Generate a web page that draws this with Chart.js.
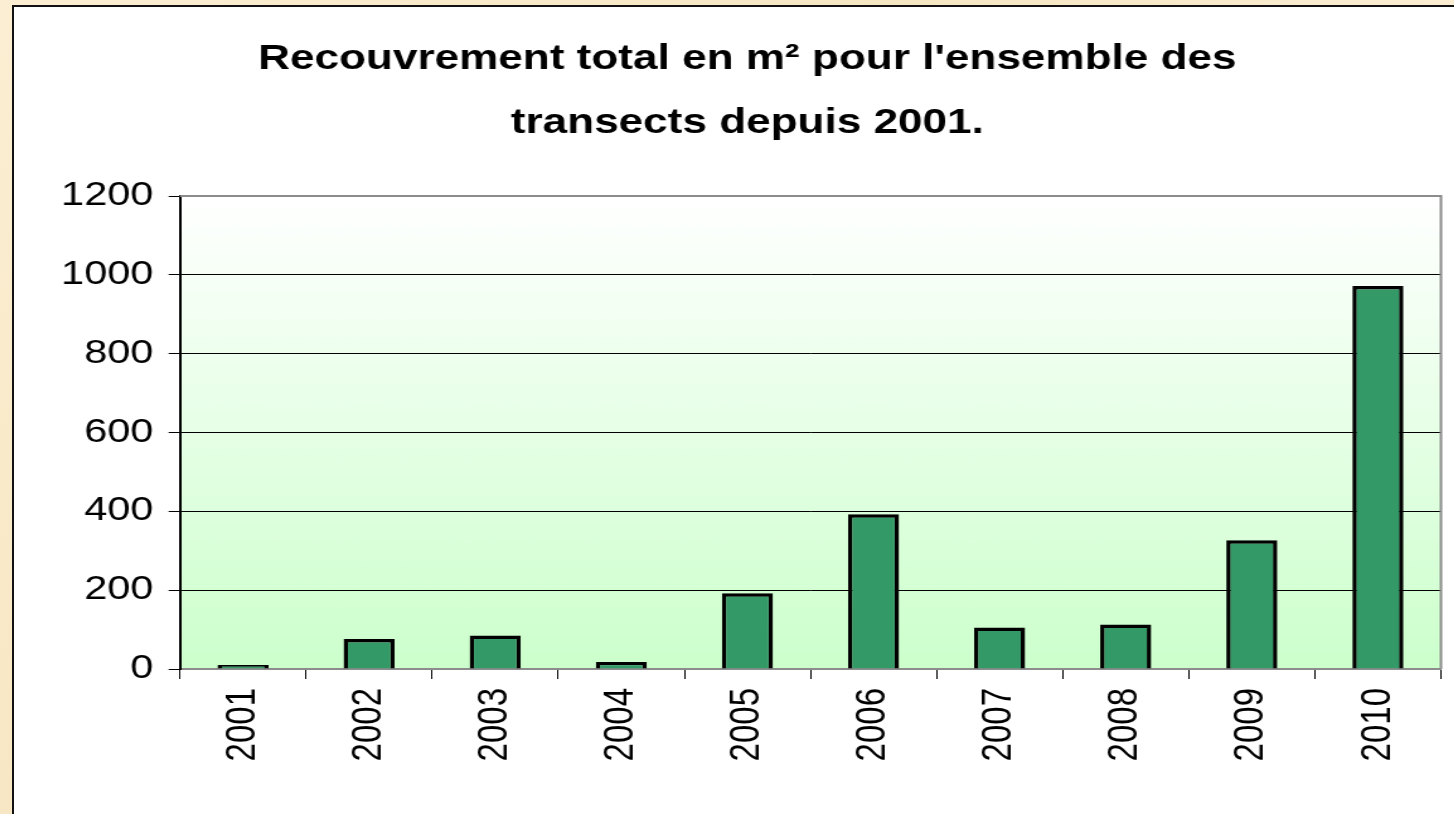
<!DOCTYPE html>
<html>
<head>
<meta charset="utf-8">
<script src="https://cdn.jsdelivr.net/npm/chart.js@4"></script>
<style>
    html, body { margin: 0; padding: 0; overflow: hidden; }
    body {
        width: 1454px;
        height: 814px;
        background: linear-gradient(135deg, #fbeed2 0%, #f7e6c2 40%, #fbefd6 70%, #f6e4bf 100%);
        position: relative;
    }
    #box {
        position: absolute;
        left: 12px;
        top: 5px;
        width: 1460px;
        height: 830px;
        background: #fff;
        border-left: 2px solid #111;
        border-top: 2px solid #111;
    }
    /* the reference picture is stretched sideways, so the chart is too */
    #stretch {
        position: absolute;
        left: 0;
        top: 0;
        transform: scaleX(1.26);
        transform-origin: 0 0;
    }
</style>
</head>
<body>
<div id="box">
    <div id="stretch">
        <canvas id="chart" width="1143" height="807"></canvas>
    </div>
</div>
<script>
// data
const years = ["2001", "2002", "2003", "2004", "2005", "2006", "2007", "2008", "2009", "2010"];
const coverArea = [10, 76, 85, 18, 192, 393, 105, 113, 327, 972];
const titleLines = ["Recouvrement total en m\u00b2 pour l'ensemble des", "transects depuis 2001."];
const yMin = 0;
const yMax = 1200;
const yStep = 200;

const fontFamily = "'Liberation Sans', Arial, sans-serif";

// plot area: white at the top fading to light green at the bottom
const plotBackground = {
    id: "plotBackground",
    beforeDraw(chart) {
        const { ctx, chartArea: a } = chart;
        const grad = ctx.createLinearGradient(0, a.top, 0, a.bottom);
        grad.addColorStop(0, "#ffffff");
        grad.addColorStop(1, "#ccffcc");
        ctx.save();
        ctx.fillStyle = grad;
        ctx.fillRect(a.left, a.top, a.right - a.left, a.bottom - a.top);
        ctx.restore();
    },
    afterDraw(chart) {
        // gray frame on top and right side of the plot area
        const { ctx, chartArea: a } = chart;
        ctx.save();
        ctx.strokeStyle = "#8c8c8c";
        ctx.lineWidth = 2;
        ctx.beginPath();
        ctx.moveTo(a.left, a.top);
        ctx.lineTo(a.right, a.top);
        ctx.lineTo(a.right, a.bottom);
        ctx.stroke();
        ctx.restore();
    }
};

new Chart(document.getElementById("chart"), {
    type: "bar",
    data: {
        labels: years,
        datasets: [{
            data: coverArea,
            backgroundColor: "#339966",
            borderColor: "#000000",
            borderWidth: 3.5,
            barPercentage: 0.405,
            categoryPercentage: 1
        }]
    },
    options: {
        responsive: false,
        animation: false,
        layout: { padding: { left: 31.5, right: 10.5, top: 0, bottom: 0 } },
        plugins: {
            legend: { display: false },
            tooltip: { enabled: false },
            title: {
                display: true,
                text: titleLines,
                color: "#000",
                font: { family: fontFamily, size: 35, weight: "bold", lineHeight: 1.83 },
                padding: { top: 20, bottom: 41 }
            }
        },
        scales: {
            x: {
                grid: {
                    offset: true,
                    drawOnChartArea: false,
                    color: "#000",
                    tickLength: 10
                },
                border: { color: "#8c8c8c", width: 2 },
                ticks: {
                    color: "#000",
                    minRotation: 90,
                    maxRotation: 90,
                    padding: 9,
                    font: { family: fontFamily, size: 33 }
                },
                afterFit: (scale) => { scale.height = 145; }
            },
            y: {
                min: yMin,
                max: yMax,
                grid: {
                    color: "#000",
                    lineWidth: 1,
                    tickLength: 9
                },
                border: { color: "#000", width: 2 },
                ticks: {
                    stepSize: yStep,
                    color: "#000",
                    padding: 12,
                    font: { family: fontFamily, size: 33 },
                    callback: (value) => String(value) // no thousands separator
                },
                afterFit: (scale) => { scale.width = 100.2; }
            }
        }
    },
    plugins: [plotBackground]
});
</script>
</body>
</html>
